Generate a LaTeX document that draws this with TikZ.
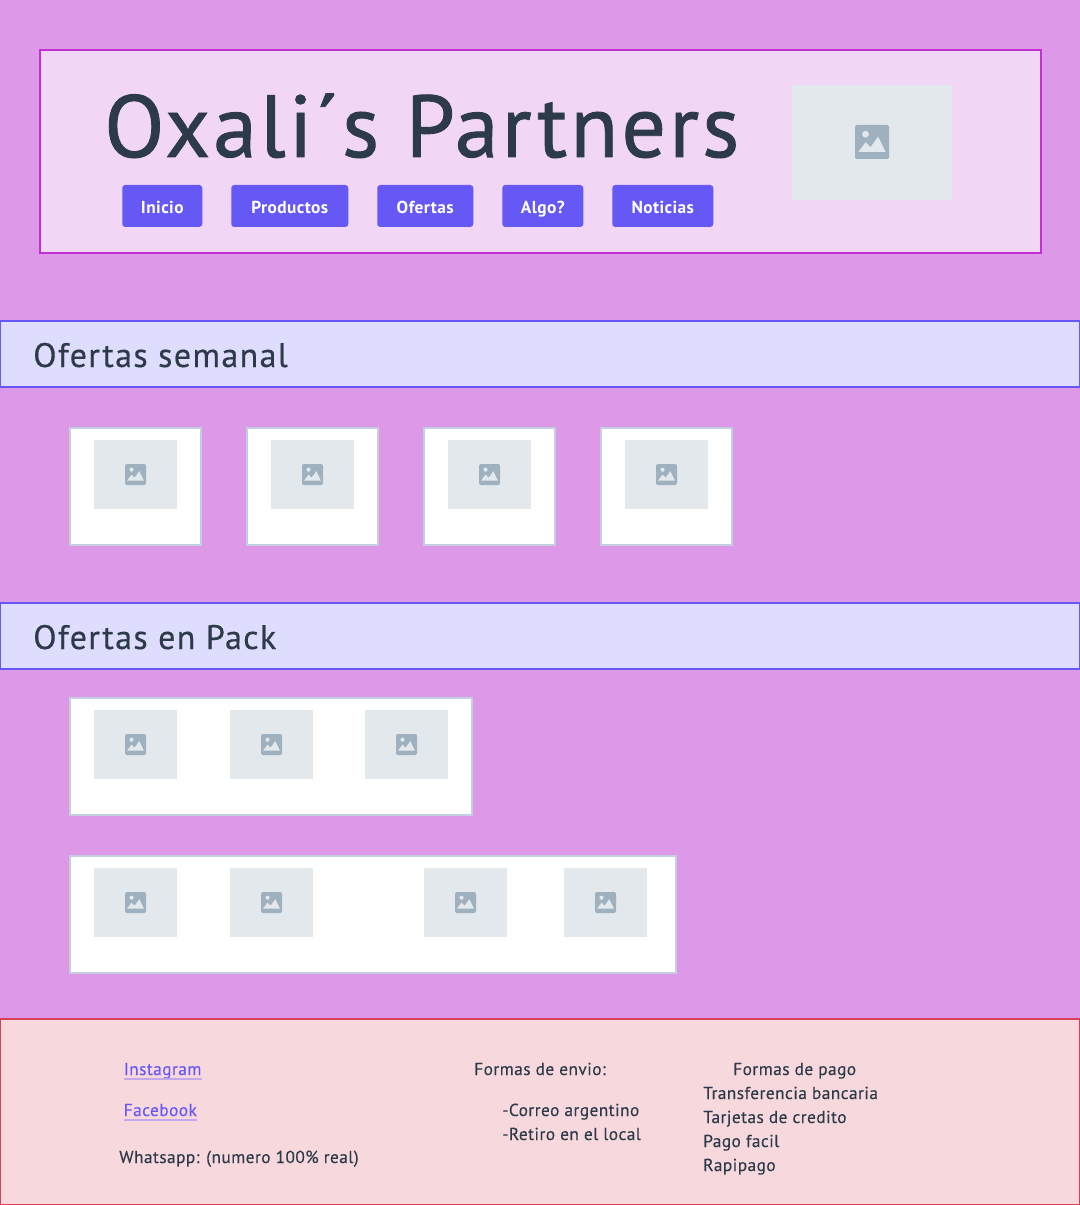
\documentclass[tikz,border=0pt]{standalone}
\usepackage{fontspec}
\setmainfont{PT Sans}
\definecolor{PageLilac}{HTML}{DD99E8}
\definecolor{HeadFill}{HTML}{F1D6F5}
\definecolor{HeadLine}{HTML}{C030D2}
\definecolor{BtnBlue}{HTML}{6558F5}
\definecolor{InkBlue}{HTML}{2C3A4A}
\definecolor{SecFill}{HTML}{DFDDFD}
\definecolor{ImgFill}{HTML}{E2E8EC}
\definecolor{ImgIcon}{HTML}{9FB0BE}
\definecolor{CardLine}{HTML}{C3CFE0}
\definecolor{FootFill}{HTML}{F7D8DD}
\definecolor{FootLine}{HTML}{D8405A}
\definecolor{LinkLine}{HTML}{C4A8EE}
\def\px{0.75pt}
\tikzset{
  navbtn/.style={fill=BtnBlue, text=white, rounded corners=3*\px, anchor=west, inner sep=0pt, minimum height=42*\px, text height=11pt, text depth=0pt, font=\fontsize{13pt}{15pt}\bfseries\addfontfeature{LetterSpace=2.5}},
  sectext/.style={anchor=base west, inner sep=0pt, text=InkBlue, font=\fontsize{25.5pt}{30pt}\selectfont\addfontfeature{LetterSpace=4,FakeBold=0.4}},
  foottext/.style={anchor=base west, inner sep=0pt, text=InkBlue, font=\fontsize{13pt}{18pt}\selectfont\addfontfeature{LetterSpace=2.5,FakeBold=0.2}},
  linktext/.style={foottext, text=BtnBlue},
  imgicon/.pic={
    \fill[ImgIcon, rounded corners=1.5pt] (-1,-1) rectangle (1,1);
    \fill[ImgFill] (-0.38,-0.46) circle (0.2);
    \fill[ImgFill] (-0.8,0.58) -- (-0.38,0.02) -- (-0.08,0.3) -- (0.36,-0.32) -- (0.8,0.58) -- cycle;
  }
}
\begin{document}
\begin{tikzpicture}[x=\px, y=-\px]
  \useasboundingbox (0,0) rectangle (1080,1205);
  \fill[PageLilac] (0,0) rectangle (1080,1205);

  % header
  \draw[HeadLine, line width=2*\px, fill=HeadFill] (40,50) rectangle (1041,253);
  \node[anchor=base west, inner sep=0pt, text=InkBlue, font=\fontsize{66pt}{70pt}\selectfont\addfontfeature{LetterSpace=3.5,FakeBold=1}] (title) at (104,157) {Oxali´s Partners};
  \foreach \x/\w/\name/\label in {122/80/inicio/Inicio, 231/117/productos/Productos, 377/96/ofertas/Ofertas, 502/81/algo/Algo?, 612/101/noticias/Noticias}
    \node[navbtn, minimum width=\w*\px] (\name) at (\x,206) {\label};
  \fill[ImgFill] (792,85) rectangle (952,200);
  \pic[scale=17] at (872,142) {imgicon};

  % ofertas semanal
  \draw[BtnBlue, line width=1.5*\px, fill=SecFill] (0.5,321) rectangle (1079.5,387);
  \node[sectext] (semanal) at (33,367) {Ofertas semanal};
  \foreach \x in {70,247,424,601} {
    \draw[CardLine, line width=2*\px, fill=white] (\x,428) rectangle (\x+131,545);
    \fill[ImgFill] (\x+24,440) rectangle (\x+107,509);
    \pic[scale=10.5] at (\x+65.5,474.5) {imgicon};
  }

  % ofertas en pack
  \draw[BtnBlue, line width=1.5*\px, fill=SecFill] (0.5,603) rectangle (1079.5,669);
  \node[sectext] (pack) at (33,649) {Ofertas en Pack};
  \draw[CardLine, line width=2*\px, fill=white] (70,698) rectangle (472,815);
  \foreach \x in {94,230,365} {
    \fill[ImgFill] (\x,710) rectangle (\x+83,779);
    \pic[scale=10.5] at (\x+41.5,744.5) {imgicon};
  }
  \draw[CardLine, line width=2*\px, fill=white] (70,856) rectangle (676,973);
  \foreach \x in {94,230,424,564} {
    \fill[ImgFill] (\x,868) rectangle (\x+83,937);
    \pic[scale=10.5] at (\x+41.5,902.5) {imgicon};
  }

  % footer
  \draw[FootLine, line width=1.5*\px, fill=FootFill] (0.5,1019) rectangle (1079.5,1204.5);
  \node[linktext] (instagram) at (123.5,1075) {Instagram};
  \node[linktext] (facebook) at (123.5,1116) {Facebook};
  \draw[LinkLine, line width=2*\px] ([yshift=-3.5*\px]instagram.base west) -- ([yshift=-3.5*\px]instagram.base east);
  \draw[LinkLine, line width=2*\px] ([yshift=-3.5*\px]facebook.base west) -- ([yshift=-3.5*\px]facebook.base east);
  \node[foottext] (whatsapp) at (119,1163) {Whatsapp: (numero 100\% real)};
  \node[foottext] (envio) at (474,1075) {Formas de envio:};
  \node[foottext] (correo) at (502,1116) {-Correo argentino};
  \node[foottext] (retiro) at (502,1140) {-Retiro en el local};
  \node[foottext] (pago) at (733,1075) {Formas de pago};
  \foreach \y/\name/\label in {1099/transfer/Transferencia bancaria, 1123/tarjetas/Tarjetas de credito, 1147/facil/Pago facil, 1171/rapipago/Rapipago}
    \node[foottext] (\name) at (703,\y) {\label};
\end{tikzpicture}
\end{document}
